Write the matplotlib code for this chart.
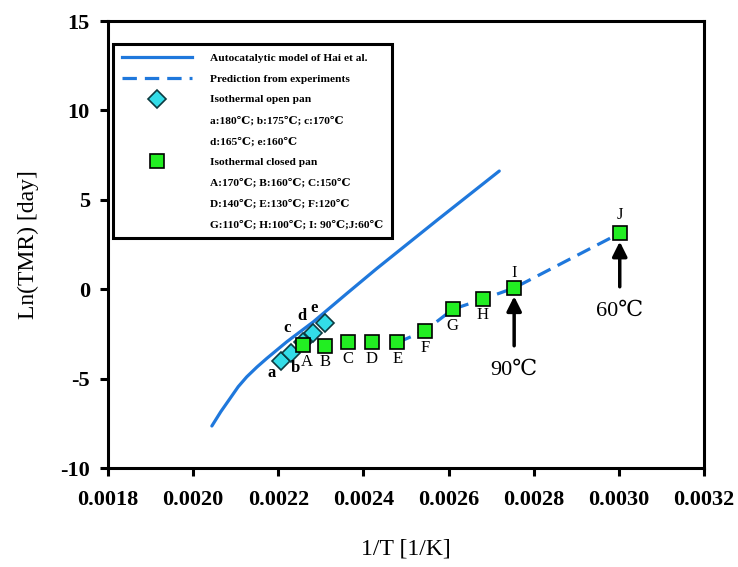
import matplotlib
matplotlib.use("Agg")
import matplotlib.pyplot as plt
from matplotlib.lines import Line2D

plt.rcParams['font.family'] = ['Liberation Serif', 'DejaVu Serif', 'DejaVu Sans']
plt.rcParams['axes.unicode_minus'] = False

# autocatalytic model curve (1/T, ln TMR)
model_x = [0.002044, 0.002065, 0.002087, 0.002106, 0.002126, 0.002150, 0.002173,
           0.002220, 0.002282, 0.002361, 0.002431, 0.002575, 0.002719]
model_y = [-7.65, -6.85, -6.10, -5.45, -4.90, -4.35, -3.87,
           -2.94, -1.83, -0.24, 1.15, 3.90, 6.61]

# isothermal open pan, a..e
open_labels = ['a', 'b', 'c', 'd', 'e']
open_x = [0.002207, 0.002231, 0.002257, 0.002282, 0.002309]
open_y = [-4.00, -3.54, -2.95, -2.44, -1.88]

# isothermal closed pan, A..J
closed_labels = ['A', 'B', 'C', 'D', 'E', 'F', 'G', 'H', 'I', 'J']
closed_x = [0.002257, 0.002309, 0.002363, 0.002420, 0.002480, 0.002544,
            0.002610, 0.002680, 0.002754, 0.003002]
closed_y = [-3.13, -3.15, -2.97, -2.98, -2.98, -2.33, -1.12, -0.56, 0.07, 3.13]

x_ticks = [0.0018, 0.0020, 0.0022, 0.0024, 0.0026, 0.0028, 0.0030, 0.0032]
y_ticks = [-10, -5, 0, 5, 10, 15]

# label offsets in points
open_offsets = [(-7, -9), (3, -11), (-11, 10), (-8, 12), (-8, 11)]
closed_offsets = [(3, -12), (0, -12), (0, -12), (0, -12), (0, -12),
                  (0, -12), (0, -12), (0, -11), (0, 11), (0, 13)]

blue = '#1f78dc'

fig = plt.figure(figsize=(7.38, 5.67), dpi=100)
ax = fig.add_axes([0.1463, 0.1746, 0.8077, 0.7883])

ax.plot(model_x, model_y, color=blue, lw=2.3, solid_capstyle='round', zorder=2)
ax.plot(closed_x[4:], closed_y[4:], color=blue, lw=2.3, dashes=(4.5, 2.5), zorder=2)
ax.plot(open_x, open_y, 'D', ms=9.5, mfc='#33dde8', mec='#0d3a40', mew=1.2, zorder=3)
ax.plot(closed_x, closed_y, 's', ms=9.5, mfc='#22ee22', mec='black', mew=1.2, zorder=4)

for lab, x, y, off in zip(open_labels, open_x, open_y, open_offsets):
    ax.annotate(lab, (x, y), xytext=off, textcoords='offset points',
                ha='center', va='center', fontsize=12, fontweight='bold')
for lab, x, y, off in zip(closed_labels, closed_x, closed_y, closed_offsets):
    ax.annotate(lab, (x, y), xytext=off, textcoords='offset points',
                ha='center', va='center', fontsize=12)

# arrows pointing at the 90 and 60 degree points
for lab, x, y, ytext in [('90℃', closed_x[8], closed_y[8], -4.55),
                         ('60℃', closed_x[9], closed_y[9], -1.25)]:
    ax.annotate(lab, xy=(x, y), xytext=(x, ytext), ha='center', va='center',
                fontsize=16,
                arrowprops=dict(arrowstyle='-|>', color='black', lw=2.5,
                                mutation_scale=22, shrinkA=9, shrinkB=6))

handles = [
    Line2D([], [], color=blue, lw=2.3),
    Line2D([], [], color=blue, lw=2.3, dashes=(4.5, 2.5)),
    Line2D([], [], marker='D', ls='none', ms=9.5, mfc='#33dde8', mec='#0d3a40', mew=1.2),
    Line2D([], [], ls='none'),
    Line2D([], [], ls='none'),
    Line2D([], [], marker='s', ls='none', ms=9.5, mfc='#22ee22', mec='black', mew=1.2),
    Line2D([], [], ls='none'),
    Line2D([], [], ls='none'),
    Line2D([], [], ls='none'),
]
labels = [
    'Autocatalytic model of Hai et al.',
    'Prediction from experiments',
    'Isothermal open pan',
    'a:180℃; b:175℃; c:170℃',
    'd:165℃; e:160℃',
    'Isothermal closed pan',
    'A:170℃; B:160℃; C:150℃',
    'D:140℃; E:130℃; F:120℃',
    'G:110℃; H:100℃; I: 90℃;J:60℃',
]
leg = ax.legend(handles, labels, loc='upper left', bbox_to_anchor=(0.008, 0.949),
                borderaxespad=0, prop={'size': 8.2, 'weight': 'bold'},
                handlelength=6.2, handletextpad=1.5, labelspacing=0.95,
                borderpad=0.8, fancybox=False, framealpha=1)
leg.get_frame().set_edgecolor('black')
leg.get_frame().set_linewidth(2.2)

ax.set_xlim(0.0018, 0.0032)
ax.set_ylim(-10, 15)
ax.set_xticks(x_ticks)
ax.set_xticklabels([f'{t:.4f}' for t in x_ticks])
ax.set_yticks(y_ticks)
ax.tick_params(direction='out', length=6, width=2.2, labelsize=16, pad=7)
ax.tick_params(axis='x', pad=10)
for lbl in ax.get_xticklabels() + ax.get_yticklabels():
    lbl.set_fontweight('bold')
for sp in ax.spines.values():
    sp.set_linewidth(2.2)

ax.set_xlabel('1/T [1/K]', fontsize=17, labelpad=20)
ax.set_ylabel('Ln(TMR) [day]', fontsize=17, labelpad=15)

fig.savefig('out.png', dpi=100)
